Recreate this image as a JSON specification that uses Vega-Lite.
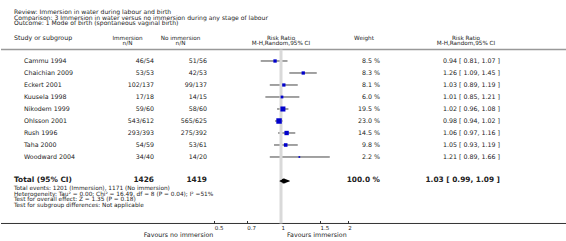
{
  "$schema": "https://vega.github.io/schema/vega-lite/v6.json",
  "padding": 0,
  "spacing": 0,
  "bounds": "flush",
  "background": "white",
  "config": {
    "view": {"stroke": null},
    "text": {"font": "DejaVu Sans", "fontSize": 6.3, "fill": "#222"},
    "axis": {"labelFont": "DejaVu Sans", "labelColor": "#222", "tickColor": "#333"}
  },
  "datasets": {
    "studies": [
      {"study": "Cammu 1994", "immN": "46/54", "noN": "51/56", "weight": 8.5, "wt": "8.5 %", "rr": 0.94, "lo": 0.81, "hi": 1.07, "ci": "0.94 [ 0.81, 1.07 ]", "row": 1},
      {"study": "Chaichian 2009", "immN": "53/53", "noN": "42/53", "weight": 8.3, "wt": "8.3 %", "rr": 1.26, "lo": 1.09, "hi": 1.45, "ci": "1.26 [ 1.09, 1.45 ]", "row": 2},
      {"study": "Eckert 2001", "immN": "102/137", "noN": "99/137", "weight": 8.1, "wt": "8.1 %", "rr": 1.03, "lo": 0.89, "hi": 1.19, "ci": "1.03 [ 0.89, 1.19 ]", "row": 3},
      {"study": "Kuusela 1998", "immN": "17/18", "noN": "14/15", "weight": 6.0, "wt": "6.0 %", "rr": 1.01, "lo": 0.85, "hi": 1.21, "ci": "1.01 [ 0.85, 1.21 ]", "row": 4},
      {"study": "Nikodem 1999", "immN": "59/60", "noN": "58/60", "weight": 19.5, "wt": "19.5 %", "rr": 1.02, "lo": 0.96, "hi": 1.08, "ci": "1.02 [ 0.96, 1.08 ]", "row": 5},
      {"study": "Ohlsson 2001", "immN": "543/612", "noN": "565/625", "weight": 23.0, "wt": "23.0 %", "rr": 0.98, "lo": 0.94, "hi": 1.02, "ci": "0.98 [ 0.94, 1.02 ]", "row": 6},
      {"study": "Rush 1996", "immN": "293/393", "noN": "275/392", "weight": 14.5, "wt": "14.5 %", "rr": 1.06, "lo": 0.97, "hi": 1.16, "ci": "1.06 [ 0.97, 1.16 ]", "row": 7},
      {"study": "Taha 2000", "immN": "54/59", "noN": "53/61", "weight": 9.8, "wt": "9.8 %", "rr": 1.05, "lo": 0.93, "hi": 1.19, "ci": "1.05 [ 0.93, 1.19 ]", "row": 8},
      {"study": "Woodward 2004", "immN": "34/40", "noN": "14/20", "weight": 2.2, "wt": "2.2 %", "rr": 1.21, "lo": 0.89, "hi": 1.66, "ci": "1.21 [ 0.89, 1.66 ]", "row": 9}
    ],
    "total": [
      {"label": "Total (95% CI)", "immN": "1426", "noN": "1419", "wt": "100.0 %", "rr": 1.03, "lo": 0.99, "hi": 1.09, "ci": "1.03 [ 0.99, 1.09 ]", "row": 11}
    ]
  },
  "hconcat": [
    {
      "width": 100, "height": 241,
      "layer": [
        {"data": {"values": [{}]}, "mark": {"type": "rule", "stroke": "#999", "strokeWidth": 1.5}, "encoding": {"y": {"datum": 0.042, "type": "quantitative", "scale": {"domain": [-4.0833, 16], "reverse": true, "nice": false, "zero": false}, "axis": null}}},
        {"data": {"values": [{}]}, "mark": {"type": "rule", "stroke": "#333", "strokeWidth": 1}, "encoding": {"y": {"datum": 14.54, "type": "quantitative", "scale": {"domain": [-4.0833, 16], "reverse": true, "nice": false, "zero": false}, "axis": null}}},
        {"data": {"values": [{}]}, "mark": {"type": "text", "align": "left", "baseline": "top", "x": 0, "dx": 13, "fontSize": 6.1, "lineHeight": 5.8, "text": ["Review:  Immersion in water during labour and birth", "Comparison:  3 Immersion in water versus no immersion during any stage of labour", "Outcome:  1 Mode of birth (spontaneous vaginal birth)"]}, "encoding": {"y": {"datum": -3.35, "type": "quantitative", "scale": {"domain": [-4.0833, 16], "reverse": true, "nice": false, "zero": false}, "axis": null}}},
        {"data": {"values": [{}]}, "mark": {"type": "text", "align": "left", "baseline": "middle", "x": 0, "dx": 13, "text": "Study or subgroup"}, "encoding": {"y": {"datum": -0.95, "type": "quantitative", "scale": {"domain": [-4.0833, 16], "reverse": true, "nice": false, "zero": false}, "axis": null}}},
        {"data": {"name": "studies"}, "mark": {"type": "text", "align": "left", "baseline": "middle", "x": 0, "dx": 23}, "encoding": {"text": {"field": "study"}, "y": {"field": "row", "type": "quantitative", "scale": {"domain": [-4.0833, 16], "reverse": true, "nice": false, "zero": false}, "axis": null}}},
        {"data": {"name": "total"}, "mark": {"type": "text", "align": "left", "baseline": "middle", "x": 0, "dx": 13, "dy": -0.6, "fontSize": 7.4, "fontWeight": "bold"}, "encoding": {"text": {"field": "label"}, "y": {"field": "row", "type": "quantitative", "scale": {"domain": [-4.0833, 16], "reverse": true, "nice": false, "zero": false}, "axis": null}}},
        {"data": {"values": [{}]}, "mark": {"type": "text", "align": "left", "baseline": "top", "x": 0, "dx": 13, "fontSize": 5.8, "lineHeight": 5.5, "text": ["Total events: 1201 (Immersion), 1171 (No immersion)", "Heterogeneity: Tau² = 0.00; Chi² = 16.49, df = 8 (P = 0.04); I² =51%", "Test for overall effect: Z = 1.35 (P = 0.18)", "Test for subgroup differences: Not applicable"]}, "encoding": {"y": {"datum": 11.34, "type": "quantitative", "scale": {"domain": [-4.0833, 16], "reverse": true, "nice": false, "zero": false}, "axis": null}}}
      ]
    },
    {
      "width": 53, "height": 241,
      "layer": [
        {"data": {"values": [{}]}, "mark": {"type": "rule", "stroke": "#999", "strokeWidth": 1.5}, "encoding": {"y": {"datum": 0.042, "type": "quantitative", "scale": {"domain": [-4.0833, 16], "reverse": true, "nice": false, "zero": false}, "axis": null}}},
        {"data": {"values": [{}]}, "mark": {"type": "rule", "stroke": "#333", "strokeWidth": 1}, "encoding": {"y": {"datum": 14.54, "type": "quantitative", "scale": {"domain": [-4.0833, 16], "reverse": true, "nice": false, "zero": false}, "axis": null}}},
        {"data": {"values": [{}]}, "mark": {"type": "text", "align": "center", "baseline": "middle", "fontSize": 5.7, "text": "Immersion"}, "encoding": {"y": {"datum": -0.95, "type": "quantitative", "scale": {"domain": [-4.0833, 16], "reverse": true, "nice": false, "zero": false}, "axis": null}}},
        {"data": {"values": [{}]}, "mark": {"type": "text", "align": "center", "baseline": "middle", "fontSize": 5.7, "text": "n/N"}, "encoding": {"y": {"datum": -0.5, "type": "quantitative", "scale": {"domain": [-4.0833, 16], "reverse": true, "nice": false, "zero": false}, "axis": null}}},
        {"data": {"name": "studies"}, "mark": {"type": "text", "align": "right", "baseline": "middle", "x": "width"}, "encoding": {"text": {"field": "immN"}, "y": {"field": "row", "type": "quantitative", "scale": {"domain": [-4.0833, 16], "reverse": true, "nice": false, "zero": false}, "axis": null}}},
        {"data": {"name": "total"}, "mark": {"type": "text", "align": "right", "baseline": "middle", "x": "width", "dy": -0.6, "fontSize": 7.4, "fontWeight": "bold"}, "encoding": {"text": {"field": "immN"}, "y": {"field": "row", "type": "quantitative", "scale": {"domain": [-4.0833, 16], "reverse": true, "nice": false, "zero": false}, "axis": null}}}
      ]
    },
    {
      "width": 53, "height": 241,
      "layer": [
        {"data": {"values": [{}]}, "mark": {"type": "rule", "stroke": "#999", "strokeWidth": 1.5}, "encoding": {"y": {"datum": 0.042, "type": "quantitative", "scale": {"domain": [-4.0833, 16], "reverse": true, "nice": false, "zero": false}, "axis": null}}},
        {"data": {"values": [{}]}, "mark": {"type": "rule", "stroke": "#333", "strokeWidth": 1}, "encoding": {"y": {"datum": 14.54, "type": "quantitative", "scale": {"domain": [-4.0833, 16], "reverse": true, "nice": false, "zero": false}, "axis": null}}},
        {"data": {"values": [{}]}, "mark": {"type": "text", "align": "center", "baseline": "middle", "fontSize": 5.7, "text": "No immersion"}, "encoding": {"y": {"datum": -0.95, "type": "quantitative", "scale": {"domain": [-4.0833, 16], "reverse": true, "nice": false, "zero": false}, "axis": null}}},
        {"data": {"values": [{}]}, "mark": {"type": "text", "align": "center", "baseline": "middle", "fontSize": 5.7, "text": "n/N"}, "encoding": {"y": {"datum": -0.5, "type": "quantitative", "scale": {"domain": [-4.0833, 16], "reverse": true, "nice": false, "zero": false}, "axis": null}}},
        {"data": {"name": "studies"}, "mark": {"type": "text", "align": "right", "baseline": "middle", "x": "width"}, "encoding": {"text": {"field": "noN"}, "y": {"field": "row", "type": "quantitative", "scale": {"domain": [-4.0833, 16], "reverse": true, "nice": false, "zero": false}, "axis": null}}},
        {"data": {"name": "total"}, "mark": {"type": "text", "align": "right", "baseline": "middle", "x": "width", "dy": -0.6, "fontSize": 7.4, "fontWeight": "bold"}, "encoding": {"text": {"field": "noN"}, "y": {"field": "row", "type": "quantitative", "scale": {"domain": [-4.0833, 16], "reverse": true, "nice": false, "zero": false}, "axis": null}}}
      ]
    },
    {
      "width": 141, "height": 241,
      "layer": [
        {"data": {"values": [{}]}, "mark": {"type": "rule", "stroke": "#999", "strokeWidth": 1.5}, "encoding": {"y": {"datum": 0.042, "type": "quantitative", "scale": {"domain": [-4.0833, 16], "reverse": true, "nice": false, "zero": false}, "axis": null}}},
        {"data": {"values": [{}]}, "mark": {"type": "rule", "stroke": "#333", "strokeWidth": 1}, "encoding": {"y": {"datum": 14.54, "type": "quantitative", "scale": {"domain": [-4.0833, 16], "reverse": true, "nice": false, "zero": false}, "axis": null}}},
        {"data": {"name": "studies"}, "mark": {"type": "rule", "stroke": "#444", "strokeWidth": 1}, "encoding": {
          "x": {"field": "lo", "type": "quantitative", "scale": {"type": "log", "domain": [0.4635, 2.006], "nice": false},
                "axis": {"orient": "bottom", "values": [0.5, 0.7, 1, 1.5, 2], "format": "~g", "offset": -17.5, "domain": false, "grid": false, "ticks": true, "tickSize": -3, "labelAlign": "left", "labelBaseline": "top", "labelPadding": 5, "labelFontSize": 5.5, "labelFlush": false, "labelOverlap": false, "title": null}},
          "x2": {"field": "hi"},
          "y": {"field": "row", "type": "quantitative", "scale": {"domain": [-4.0833, 16], "reverse": true, "nice": false, "zero": false}, "axis": null}}},
        {"data": {"values": [{}]}, "mark": {"type": "rule", "stroke": "#d9d9d9", "strokeWidth": 3}, "encoding": {
          "x": {"datum": 1, "type": "quantitative"},
          "y": {"datum": 0.042, "type": "quantitative", "scale": {"domain": [-4.0833, 16], "reverse": true, "nice": false, "zero": false}, "axis": null},
          "y2": {"datum": 14.54}}},
        {"data": {"values": [{}]}, "mark": {"type": "text", "align": "center", "baseline": "middle", "fontSize": 5.7, "text": "Risk Ratio"}, "encoding": {
          "x": {"datum": 1, "type": "quantitative"},
          "y": {"datum": -0.95, "type": "quantitative", "scale": {"domain": [-4.0833, 16], "reverse": true, "nice": false, "zero": false}, "axis": null}}},
        {"data": {"values": [{}]}, "mark": {"type": "text", "align": "center", "baseline": "middle", "fontSize": 5.7, "text": "M-H,Random,95% CI"}, "encoding": {
          "x": {"datum": 1, "type": "quantitative"},
          "y": {"datum": -0.5, "type": "quantitative", "scale": {"domain": [-4.0833, 16], "reverse": true, "nice": false, "zero": false}, "axis": null}}},
        {"data": {"name": "studies"}, "mark": {"type": "point", "shape": "square", "filled": true, "color": "#0000cc", "opacity": 1}, "encoding": {
          "x": {"field": "rr", "type": "quantitative"},
          "y": {"field": "row", "type": "quantitative", "scale": {"domain": [-4.0833, 16], "reverse": true, "nice": false, "zero": false}, "axis": null},
          "size": {"field": "weight", "type": "quantitative", "scale": {"domain": [0, 23], "range": [0, 30], "zero": true}, "legend": null}}},
        {"data": {"name": "total"}, "transform": [{"fold": ["lo", "rr", "hi"]}], "mark": {"type": "trail", "color": "black"}, "encoding": {
          "x": {"field": "value", "type": "quantitative"},
          "y": {"field": "row", "type": "quantitative", "scale": {"domain": [-4.0833, 16], "reverse": true, "nice": false, "zero": false}, "axis": null},
          "size": {"field": "key", "type": "ordinal", "scale": {"type": "ordinal", "domain": ["lo", "rr", "hi"], "range": [0, 5, 0]}, "legend": null},
          "order": {"field": "value", "type": "quantitative"}}},
        {"data": {"values": [{}]}, "mark": {"type": "text", "align": "right", "baseline": "middle", "dx": -1, "text": "Favours no immersion"}, "encoding": {
          "x": {"datum": 0.5, "type": "quantitative"},
          "y": {"datum": 15.5, "type": "quantitative", "scale": {"domain": [-4.0833, 16], "reverse": true, "nice": false, "zero": false}, "axis": null}}},
        {"data": {"values": [{}]}, "mark": {"type": "text", "align": "left", "baseline": "middle", "dx": 6, "text": "Favours immersion"}, "encoding": {
          "x": {"datum": 1, "type": "quantitative"},
          "y": {"datum": 15.5, "type": "quantitative", "scale": {"domain": [-4.0833, 16], "reverse": true, "nice": false, "zero": false}, "axis": null}}}
      ]
    },
    {
      "width": 32, "height": 241,
      "layer": [
        {"data": {"values": [{}]}, "mark": {"type": "rule", "stroke": "#999", "strokeWidth": 1.5}, "encoding": {"y": {"datum": 0.042, "type": "quantitative", "scale": {"domain": [-4.0833, 16], "reverse": true, "nice": false, "zero": false}, "axis": null}}},
        {"data": {"values": [{}]}, "mark": {"type": "rule", "stroke": "#333", "strokeWidth": 1}, "encoding": {"y": {"datum": 14.54, "type": "quantitative", "scale": {"domain": [-4.0833, 16], "reverse": true, "nice": false, "zero": false}, "axis": null}}},
        {"data": {"values": [{}]}, "mark": {"type": "text", "align": "center", "baseline": "middle", "fontSize": 5.7, "text": "Weight"}, "encoding": {"y": {"datum": -0.95, "type": "quantitative", "scale": {"domain": [-4.0833, 16], "reverse": true, "nice": false, "zero": false}, "axis": null}}},
        {"data": {"name": "studies"}, "mark": {"type": "text", "align": "right", "baseline": "middle", "x": "width"}, "encoding": {"text": {"field": "wt"}, "y": {"field": "row", "type": "quantitative", "scale": {"domain": [-4.0833, 16], "reverse": true, "nice": false, "zero": false}, "axis": null}}},
        {"data": {"name": "total"}, "mark": {"type": "text", "align": "right", "baseline": "middle", "x": "width", "dy": -0.6, "fontSize": 7.4, "fontWeight": "bold"}, "encoding": {"text": {"field": "wt"}, "y": {"field": "row", "type": "quantitative", "scale": {"domain": [-4.0833, 16], "reverse": true, "nice": false, "zero": false}, "axis": null}}}
      ]
    },
    {
      "width": 52, "height": 241,
      "layer": [
        {"data": {"values": [{}]}, "mark": {"type": "rule", "stroke": "#999", "strokeWidth": 1.5}, "encoding": {"y": {"datum": 0.042, "type": "quantitative", "scale": {"domain": [-4.0833, 16], "reverse": true, "nice": false, "zero": false}, "axis": null}}},
        {"data": {"values": [{}]}, "mark": {"type": "rule", "stroke": "#333", "strokeWidth": 1}, "encoding": {"y": {"datum": 14.54, "type": "quantitative", "scale": {"domain": [-4.0833, 16], "reverse": true, "nice": false, "zero": false}, "axis": null}}}
      ]
    },
    {
      "width": 68, "height": 241,
      "layer": [
        {"data": {"values": [{}]}, "mark": {"type": "rule", "stroke": "#999", "strokeWidth": 1.5}, "encoding": {"y": {"datum": 0.042, "type": "quantitative", "scale": {"domain": [-4.0833, 16], "reverse": true, "nice": false, "zero": false}, "axis": null}}},
        {"data": {"values": [{}]}, "mark": {"type": "rule", "stroke": "#333", "strokeWidth": 1}, "encoding": {"y": {"datum": 14.54, "type": "quantitative", "scale": {"domain": [-4.0833, 16], "reverse": true, "nice": false, "zero": false}, "axis": null}}},
        {"data": {"values": [{}]}, "mark": {"type": "text", "align": "center", "baseline": "middle", "fontSize": 5.7, "text": "Risk Ratio"}, "encoding": {"y": {"datum": -0.95, "type": "quantitative", "scale": {"domain": [-4.0833, 16], "reverse": true, "nice": false, "zero": false}, "axis": null}}},
        {"data": {"values": [{}]}, "mark": {"type": "text", "align": "center", "baseline": "middle", "fontSize": 5.7, "text": "M-H,Random,95% CI"}, "encoding": {"y": {"datum": -0.5, "type": "quantitative", "scale": {"domain": [-4.0833, 16], "reverse": true, "nice": false, "zero": false}, "axis": null}}},
        {"data": {"name": "studies"}, "mark": {"type": "text", "align": "right", "baseline": "middle", "x": "width"}, "encoding": {"text": {"field": "ci"}, "y": {"field": "row", "type": "quantitative", "scale": {"domain": [-4.0833, 16], "reverse": true, "nice": false, "zero": false}, "axis": null}}},
        {"data": {"name": "total"}, "mark": {"type": "text", "align": "right", "baseline": "middle", "x": "width", "dy": -0.6, "fontSize": 7.4, "fontWeight": "bold"}, "encoding": {"text": {"field": "ci"}, "y": {"field": "row", "type": "quantitative", "scale": {"domain": [-4.0833, 16], "reverse": true, "nice": false, "zero": false}, "axis": null}}}
      ]
    },
    {
      "width": 67, "height": 241,
      "layer": [
        {"data": {"values": [{}]}, "mark": {"type": "rule", "stroke": "#999", "strokeWidth": 1.5}, "encoding": {"y": {"datum": 0.042, "type": "quantitative", "scale": {"domain": [-4.0833, 16], "reverse": true, "nice": false, "zero": false}, "axis": null}}},
        {"data": {"values": [{}]}, "mark": {"type": "rule", "stroke": "#333", "strokeWidth": 1}, "encoding": {"y": {"datum": 14.54, "type": "quantitative", "scale": {"domain": [-4.0833, 16], "reverse": true, "nice": false, "zero": false}, "axis": null}}}
      ]
    }
  ]
}
